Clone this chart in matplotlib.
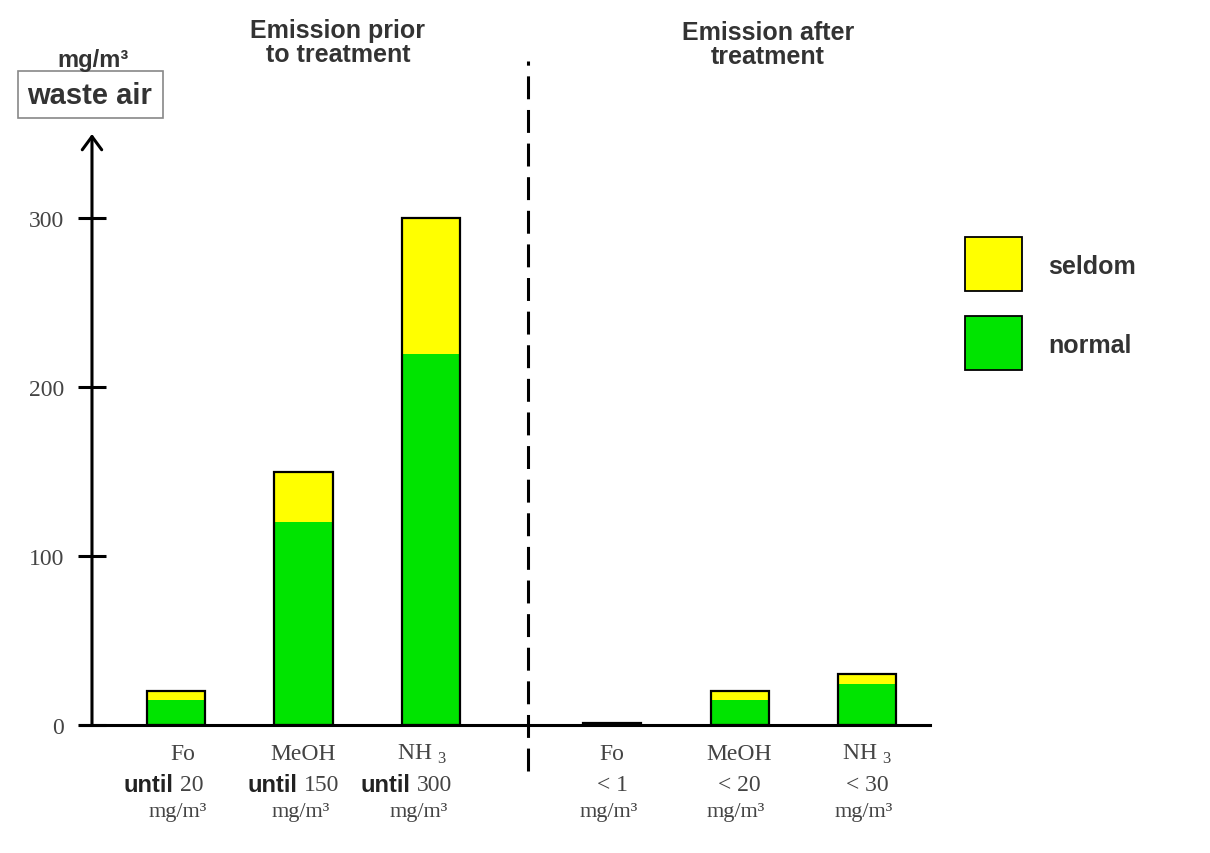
import numpy as np
import matplotlib.pyplot as plt
from matplotlib.patches import Rectangle

plt.rcParams['font.family'] = ['Liberation Sans', 'DejaVu Sans']

# data (mg/m3)
names = ['Fo', 'MeOH', 'NH $_\\mathregular{3}$']
limits_before = ['20', '150', '300']
limits_after = ['< 1', '< 20', '< 30']
normal_before = [15, 120, 220]
seldom_before = [5, 30, 80]
normal_after = [1, 15, 24]
seldom_after = [0, 5, 6]
yticks = [0, 100, 200, 300]

GREEN = '#00e400'
YELLOW = '#ffff00'
GREY = '#444444'
SERIF = 'Liberation Serif'

W, H = 1210, 854
fig = plt.figure(figsize=(W / 100, H / 100), dpi=100)
# axes: x pixels 80..930, y pixels 726 (value 0) .. 135 (value 350)
ax = fig.add_axes([80 / W, (H - 726) / H, 850 / W, 591 / H])

pos_before = np.array([1.0, 2.0, 3.0])
pos_after = np.array([4.42, 5.42, 6.42])
pos = np.concatenate([pos_before, pos_after])
normal = np.array(normal_before + normal_after)
seldom = np.array(seldom_before + seldom_after)
bw = 0.455

ax.bar(pos, normal, width=bw, color=GREEN, linewidth=0)
ax.bar(pos, seldom, bottom=normal, width=bw, color=YELLOW, linewidth=0)
ax.bar(pos, normal + seldom, width=bw, facecolor='none', edgecolor='black', linewidth=1.6)

ax.set_xlim(0.247, 6.914)
ax.set_ylim(0, 350)
yaxis_x = 0.341

for s in ['top', 'right']:
    ax.spines[s].set_visible(False)
ax.spines['bottom'].set_linewidth(2.2)
ax.spines['left'].set_position(('data', yaxis_x))
ax.spines['left'].set_visible(False)

# y axis with arrow
ax.annotate('', xy=(yaxis_x, 350), xytext=(yaxis_x, 0),
            arrowprops=dict(arrowstyle='->,head_length=0.95,head_width=0.7',
                            lw=2.2, color='black', shrinkA=0, shrinkB=0),
            annotation_clip=False)

ax.set_yticks(yticks)
ax.tick_params(axis='y', direction='inout', length=20, width=2.2, pad=10,
               labelsize=17, labelcolor=GREY)
for t in ax.get_yticklabels():
    t.set_fontfamily(SERIF)
ax.set_xticks([])

# dashed separator
ax.plot([3.76, 3.76], [-27, 393], color='black', lw=2.2,
        linestyle=(0, (7.5, 3.5)), clip_on=False)

# category labels under the bars
y1, y2, y3 = -17, -35.5, -51.5
name_dx = [0.05, 0.0, -0.07]
split_dx = [-0.02, -0.05, -0.16]
unit_dx = [0.01, -0.02, -0.1]
for i, x in enumerate(pos_before):
    ax.text(x + name_dx[i], y1, names[i], ha='center', va='center', fontsize=17,
            family=SERIF, color=GREY, clip_on=False)
    ax.text(x + split_dx[i], y2, 'until', ha='right', va='center', fontsize=17,
            fontweight='bold', color='#222222', clip_on=False)
    ax.text(x + split_dx[i] + 0.05, y2, limits_before[i], ha='left', va='center',
            fontsize=17, family=SERIF, color=GREY, clip_on=False)
    ax.text(x + unit_dx[i], y3, 'mg/m³', ha='center', va='center', fontsize=16,
            family=SERIF, color=GREY, clip_on=False)
for i, x in enumerate(pos_after):
    ax.text(x, y1, names[i], ha='center', va='center', fontsize=17,
            family=SERIF, color=GREY, clip_on=False)
    ax.text(x, y2, limits_after[i], ha='center', va='center', fontsize=17,
            family=SERIF, color=GREY, clip_on=False)
    ax.text(x - 0.03, y3, 'mg/m³', ha='center', va='center', fontsize=16,
            family=SERIF, color=GREY, clip_on=False)

# titles and unit box
fig.text(338 / W, 1 - 43 / H, 'Emission prior\nto treatment', ha='center', va='center',
         fontsize=18, fontweight='bold', color='#333333', linespacing=0.95)
fig.text(768 / W, 1 - 45 / H, 'Emission after\ntreatment', ha='center', va='center',
         fontsize=18, fontweight='bold', color='#333333', linespacing=0.95)
fig.text(93 / W, 1 - 60 / H, 'mg/m³', ha='center', va='center',
         fontsize=17, fontweight='bold', color='#333333')
fig.text(90 / W, 1 - 96 / H, 'waste air', ha='center', va='center',
         fontsize=21, fontweight='bold', color='#333333')
fig.patches.append(Rectangle((18 / W, 1 - 119 / H), 145 / W, 47 / H, transform=fig.transFigure,
                             facecolor='none', edgecolor='#888888', lw=1.2))

# legend boxes
legend_items = [('seldom', YELLOW, 238), ('normal', GREEN, 317)]
for label, col, top in legend_items:
    fig.patches.append(Rectangle((965 / W, 1 - (top + 54) / H), 57 / W, 54 / H,
                                 transform=fig.transFigure, facecolor=col,
                                 edgecolor='black', lw=1.3))
    fig.text(1048 / W, 1 - (top + 29) / H, label, ha='left', va='center',
             fontsize=18, fontweight='bold', color='#333333')

fig.savefig('out.png', dpi=100)
